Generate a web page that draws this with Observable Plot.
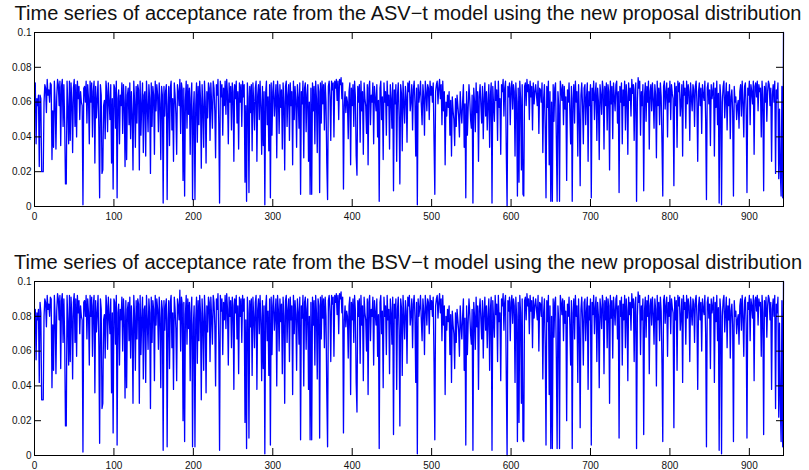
<!DOCTYPE html>
<html>
<head>
<meta charset="utf-8">
<script src="https://cdn.jsdelivr.net/npm/d3@7"></script>
<script src="https://cdn.jsdelivr.net/npm/@observablehq/plot@0.6"></script>
<style>
  html, body { margin: 0; padding: 0; background: #fff; overflow: hidden; }
  #chart { position: relative; width: 809px; height: 470px; background: #fff; overflow: hidden; }
  .panel { position: absolute; left: 0; width: 809px; }
  .ttl { position: absolute; left: -92px; width: 1000px; text-align: center; white-space: nowrap;
         font-family: "Liberation Sans", Arial, Helvetica, sans-serif; font-size: 20px; line-height: 20px; color: #111; }
  svg { display: block; }
</style>
</head>
<body>
<div id="chart"></div>
<script>
const titles = [
  "Time series of acceptance rate from the ASV\u2212t model using the new proposal distribution",
  "Time series of acceptance rate from the BSV\u2212t model using the new proposal distribution"
];
const xTicks = [0, 100, 200, 300, 400, 500, 600, 700, 800, 900];
const yTicks = [0, 0.02, 0.04, 0.06, 0.08, 0.1];
const yTickLabels = ["0", "0.02", "0.04", "0.06", "0.08", "0.1"];
const xMax = 943;

const asvRate = [
.071,.036,.062,.058,.064,.023,.064,.062,.020,.020,
.020,.060,.070,.068,.054,.073,.064,.067,.060,.071,
.070,.027,.055,.034,.072,.060,.033,.063,.073,.070,
.058,.072,.035,.069,.073,.046,.070,.048,.013,.013,
.072,.057,.036,.072,.038,.071,.060,.031,.068,.073,
.046,.070,.040,.072,.062,.069,.050,.066,.060,.058,
.001,.068,.069,.060,.072,.048,.070,.062,.036,.072,
.060,.071,.040,.066,.072,.025,.069,.051,.062,.072,
.045,.005,.070,.064,.019,.021,.058,.061,.039,.072,
.066,.043,.071,.060,.050,.070,.025,.062,.010,.070,
.068,.045,.072,.005,.062,.067,.036,.064,.058,.071,
.042,.070,.060,.023,.069,.027,.064,.068,.047,.071,
.039,.066,.053,.021,.072,.060,.034,.069,.048,.070,
.067,.021,.072,.041,.059,.071,.031,.064,.066,.029,
.072,.058,.043,.070,.062,.019,.071,.046,.069,.064,
.030,.072,.055,.070,.064,.043,.071,.059,.027,.069,
.064,.002,.069,.052,.066,.070,.004,.058,.069,.035,
.068,.072,.044,.062,.026,.071,.064,.053,.030,.070,
.066,.058,.073,.042,.071,.067,.015,.068,.006,.061,
.072,.045,.070,.053,.068,.030,.062,.071,.004,.055,
.066,.004,.058,.071,.037,.069,.047,.072,.062,.022,
.070,.057,.034,.072,.060,.025,.066,.051,.071,.068,
.038,.071,.059,.045,.072,.068,.055,.028,.070,.064,
.073,.048,.002,.072,.063,.070,.041,.068,.058,.072,
.053,.073,.064,.036,.071,.060,.069,.044,.071,.066,
.026,.070,.062,.072,.048,.066,.033,.071,.060,.070,
.046,.072,.063,.070,.014,.058,.003,.071,.062,.008,
.069,.054,.070,.032,.071,.060,.044,.068,.072,.026,
.064,.070,.050,.072,.058,.030,.069,.035,.066,.001,
.065,.072,.047,.063,.032,.070,.005,.071,.041,.066,
.072,.052,.061,.070,.028,.072,.064,.042,.070,.057,
.067,.033,.071,.060,.021,.069,.072,.046,.064,.070,
.038,.071,.058,.066,.024,.072,.050,.069,.061,.034,
.070,.063,.045,.071,.007,.066,.059,.072,.028,.068,
.071,.043,.064,.070,.026,.060,.007,.068,.007,.071,
.055,.069,.036,.072,.062,.031,.070,.066,.008,.071,
.048,.072,.059,.070,.044,.071,.060,.025,.004,.069,
.072,.063,.038,.072,.067,.071,.040,.072,.068,.073,
.061,.072,.050,.073,.070,.074,.062,.071,.010,.058,
.066,.054,.063,.060,.039,.066,.071,.024,.068,.058,
.070,.046,.072,.063,.029,.018,.069,.060,.070,.037,
.072,.055,.066,.030,.071,.062,.058,.042,.070,.024,
.068,.072,.047,.064,.060,.071,.036,.069,.062,.055,
.070,.040,.061,.003,.068,.072,.050,.063,.027,.071,
.060,.066,.041,.072,.058,.064,.033,.070,.062,.045,
.071,.009,.067,.059,.070,.026,.064,.071,.052,.013,
.070,.065,.032,.072,.060,.048,.069,.063,.037,.071,
.066,.072,.055,.061,.070,.044,.067,.072,.060,.029,
.068,.001,.070,.060,.065,.072,.058,.047,.070,.063,
.041,.072,.066,.055,.070,.068,.050,.072,.064,.069,
.060,.071,.038,.007,.066,.070,.072,.059,.068,.073,
.062,.070,.047,.072,.055,.066,.024,.060,.052,.064,
.057,.066,.041,.061,.029,.063,.055,.050,.035,.062,
.046,.064,.058,.052,.040,.066,.055,.048,.060,.070,
.034,.059,.005,.066,.041,.057,.070,.062,.050,.045,
.064,.002,.068,.060,.043,.071,.054,.066,.026,.063,
.070,.058,.048,.069,.039,.062,.071,.052,.066,.044,
.060,.070,.034,.064,.071,.002,.069,.058,.049,.072,
.061,.067,.038,.072,.057,.062,.030,.070,.066,.073,
.052,.068,.072,.031,0,.069,.063,.071,.047,.068,
.072,.056,.070,.066,.029,.071,.060,.006,.068,.014,
.072,.062,.021,.070,.007,.006,.069,.071,.058,.073,
.066,.070,.050,.072,.063,.069,.044,.071,.059,.066,
.070,.064,.058,.072,.042,.068,.067,.060,.071,.031,
.062,.070,.045,.005,.069,.057,.072,.024,.066,.003,
.060,.003,.070,.049,.068,.071,.039,.003,.066,.058,
.003,.072,.068,.061,.070,.047,.069,.056,.063,.015,
.067,.060,.071,.055,.036,.069,.003,.062,.070,.048,
.072,.060,.066,.029,.070,.053,.012,.064,.071,.058,
.036,.068,.070,.047,.063,.071,.026,.066,.058,.070,
.005,.068,.061,.072,.050,.065,.071,.038,.068,.060,
.027,.070,.064,.053,.072,.067,.033,.069,.058,.071,
.044,.070,.066,.021,.072,.059,.069,.039,.071,.063,
.055,.070,.072,.048,.066,.008,.069,.060,.071,.036,
.067,.058,.072,.044,.070,.063,.030,.071,.061,.068,
.052,.073,.065,.070,.038,.067,.071,.003,.060,.074,
.068,.072,.041,.066,.058,.070,.009,.063,.071,.049,
.069,.060,.072,.033,.066,.070,.055,.071,.062,.045,
.070,.064,.028,.072,.058,.068,.047,.071,.063,.037,
.006,.069,.072,.056,.066,.071,.040,.068,.060,.072,
.050,.070,.065,.062,.012,.071,.058,.069,.034,.072,
.066,.071,.052,.060,.070,.029,.072,.064,.068,.045,
.072,.059,.070,.066,.038,.071,.063,.055,.070,.067,
.046,.069,.072,.060,.026,.066,.071,.058,.068,.042,
.070,.064,.061,.072,.050,.004,.068,.071,.059,.067,
.035,.070,.062,.066,.071,.029,.068,.057,.072,.047,
.065,.002,.070,.063,.001,.060,.069,.072,.051,.062,
.071,.044,.066,.058,.070,.039,.063,.067,.055,.006,
.069,.060,.063,.050,.058,.061,.045,.066,.070,.052,
.072,.060,.040,.069,.071,.056,.008,.068,.064,.072,
.047,.070,.066,.059,.072,.030,.069,.071,.063,.072,
.055,.070,.066,.068,.040,.072,.062,.009,.069,.060,
.071,.049,.066,.072,.070,.058,.068,.026,.064,.070,
.060,.072,.019,.067,.062,.071,.016,.056,.020,.006,
.069,.005,.1
];

const bsvRate = [
.084,.055,.082,.078,.084,.042,.088,.082,.032,.032,
.032,.080,.090,.088,.074,.092,.084,.087,.080,.091,
.090,.039,.075,.049,.092,.080,.047,.083,.093,.090,
.078,.092,.050,.089,.093,.065,.090,.067,.017,.017,
.092,.077,.052,.092,.054,.091,.080,.044,.088,.093,
.065,.090,.057,.092,.082,.089,.070,.086,.080,.078,
.002,.088,.089,.080,.092,.067,.090,.082,.052,.092,
.080,.091,.057,.086,.092,.036,.089,.071,.082,.092,
.064,.007,.090,.084,.027,.030,.078,.081,.056,.092,
.086,.061,.091,.080,.070,.090,.036,.082,.013,.090,
.088,.064,.092,.006,.082,.087,.052,.084,.078,.091,
.060,.090,.080,.033,.089,.039,.084,.088,.066,.091,
.056,.086,.073,.030,.092,.080,.049,.089,.067,.090,
.087,.030,.092,.058,.079,.091,.044,.084,.086,.042,
.092,.078,.061,.090,.082,.027,.091,.065,.089,.084,
.043,.092,.075,.090,.084,.061,.091,.079,.039,.089,
.084,.003,.089,.072,.086,.090,.005,.078,.089,.050,
.088,.092,.062,.082,.038,.091,.084,.073,.043,.090,
.086,.078,.095,.060,.091,.087,.020,.088,.008,.081,
.092,.064,.090,.073,.088,.043,.082,.091,.005,.075,
.086,.005,.078,.091,.053,.089,.066,.092,.082,.032,
.090,.077,.049,.092,.080,.036,.086,.071,.091,.088,
.054,.091,.079,.064,.092,.088,.075,.040,.090,.084,
.093,.067,.003,.092,.083,.090,.058,.088,.078,.092,
.073,.093,.084,.052,.091,.080,.089,.062,.091,.086,
.038,.090,.082,.092,.067,.086,.047,.091,.080,.090,
.065,.092,.083,.090,.019,.078,.004,.091,.082,.010,
.089,.074,.090,.046,.091,.080,.062,.088,.092,.038,
.084,.090,.070,.092,.078,.043,.089,.050,.086,.001,
.085,.092,.066,.083,.046,.090,.006,.091,.058,.086,
.092,.072,.081,.090,.040,.092,.084,.060,.090,.077,
.087,.047,.091,.080,.030,.089,.092,.065,.084,.090,
.054,.091,.078,.086,.035,.092,.070,.089,.081,.049,
.090,.083,.064,.091,.009,.086,.079,.092,.040,.088,
.091,.061,.084,.090,.038,.080,.009,.088,.009,.091,
.075,.089,.052,.092,.082,.044,.090,.086,.010,.091,
.067,.092,.079,.090,.062,.091,.080,.036,.005,.089,
.092,.083,.054,.092,.087,.091,.057,.092,.088,.093,
.081,.092,.070,.093,.090,.094,.082,.091,.013,.078,
.086,.074,.083,.080,.056,.086,.091,.035,.088,.078,
.090,.065,.092,.083,.042,.025,.089,.080,.090,.053,
.092,.075,.086,.043,.091,.082,.078,.060,.090,.035,
.088,.092,.066,.084,.080,.091,.052,.089,.082,.075,
.090,.057,.081,.004,.088,.092,.070,.083,.039,.091,
.080,.086,.058,.092,.078,.084,.047,.090,.082,.064,
.091,.012,.087,.079,.090,.038,.084,.091,.072,.017,
.090,.085,.046,.092,.080,.067,.089,.083,.053,.091,
.086,.092,.075,.081,.090,.062,.087,.092,.080,.042,
.088,.001,.090,.080,.085,.092,.078,.066,.090,.083,
.058,.092,.086,.075,.090,.088,.070,.092,.084,.089,
.080,.091,.054,.009,.086,.090,.092,.079,.088,.093,
.082,.090,.066,.092,.075,.086,.035,.080,.072,.084,
.077,.086,.058,.081,.042,.083,.075,.070,.050,.082,
.065,.084,.078,.072,.057,.086,.075,.067,.080,.090,
.049,.079,.006,.086,.058,.077,.090,.082,.070,.064,
.084,.003,.088,.080,.061,.091,.074,.086,.038,.083,
.090,.078,.067,.089,.056,.082,.091,.072,.086,.062,
.080,.090,.049,.084,.091,.003,.089,.078,.068,.092,
.081,.087,.054,.092,.077,.082,.043,.090,.086,.093,
.072,.088,.092,.044,0,.089,.083,.091,.066,.088,
.092,.076,.090,.086,.042,.091,.080,.008,.088,.019,
.092,.082,.030,.090,.009,.008,.089,.091,.078,.093,
.086,.090,.070,.092,.083,.089,.062,.091,.079,.086,
.090,.084,.078,.092,.060,.088,.087,.080,.091,.044,
.082,.090,.064,.006,.089,.077,.092,.035,.086,.004,
.080,.004,.090,.068,.088,.091,.056,.004,.086,.078,
.004,.092,.088,.081,.090,.066,.089,.076,.083,.020,
.087,.080,.091,.075,.052,.089,.004,.082,.090,.067,
.092,.080,.086,.042,.090,.073,.016,.084,.091,.078,
.052,.088,.090,.066,.083,.091,.038,.086,.078,.090,
.006,.088,.081,.092,.070,.085,.091,.054,.088,.080,
.039,.090,.084,.073,.092,.087,.047,.089,.078,.091,
.062,.090,.086,.030,.092,.079,.089,.056,.091,.083,
.075,.090,.092,.067,.086,.010,.089,.080,.091,.052,
.087,.078,.092,.062,.090,.083,.043,.091,.081,.088,
.072,.093,.085,.090,.054,.087,.091,.004,.080,.094,
.088,.092,.058,.086,.078,.090,.012,.083,.091,.068,
.089,.080,.092,.047,.086,.090,.075,.091,.082,.064,
.090,.084,.040,.092,.078,.088,.066,.091,.083,.053,
.008,.089,.092,.076,.086,.091,.057,.088,.080,.092,
.070,.090,.085,.082,.016,.091,.078,.089,.049,.092,
.086,.091,.072,.080,.090,.042,.092,.084,.088,.064,
.092,.079,.090,.086,.054,.091,.083,.075,.090,.087,
.065,.089,.092,.080,.038,.086,.091,.078,.088,.060,
.090,.084,.081,.092,.070,.005,.088,.091,.079,.087,
.050,.090,.082,.086,.091,.042,.088,.077,.092,.066,
.085,.003,.090,.083,.001,.080,.089,.092,.071,.082,
.091,.062,.086,.078,.090,.056,.083,.087,.075,.008,
.089,.080,.083,.070,.078,.081,.064,.086,.090,.072,
.092,.080,.057,.089,.091,.076,.010,.088,.084,.092,
.066,.090,.086,.079,.092,.043,.089,.091,.083,.092,
.075,.090,.086,.088,.057,.092,.082,.012,.089,.080,
.091,.068,.086,.092,.090,.078,.088,.038,.084,.090,
.080,.092,.027,.087,.082,.091,.022,.076,.029,.008,
.089,.005,.1
];

const FONT = "'Liberation Sans', Arial, Helvetica, sans-serif";

function panel(values, title, top, height, marginBottom) {
  const wrap = document.createElement("div");
  wrap.className = "panel";
  wrap.style.top = top + "px";
  wrap.style.height = height + "px";
  const inner = 174;
  const tick = 7;
  const innerW = 809 - 34 - 26;
  const svg = Plot.plot({
    width: 809,
    height: height,
    marginLeft: 34,
    marginRight: 26,
    marginTop: 32,
    marginBottom: marginBottom,
    x: {domain: [0, xMax]},
    y: {domain: [0, 0.1]},
    style: {fontFamily: FONT, fontSize: "10px", color: "#111", background: "white", overflow: "visible"},
    marks: [
      Plot.lineY(values, {x: (d, i) => i + 1, y: d => d, stroke: "#0000ff", strokeWidth: 1.3}),
      Plot.ruleX(xTicks, {x: d => d, insetTop: inner - tick, stroke: "#000"}),
      Plot.ruleX(xTicks, {x: d => d, insetBottom: inner - tick, stroke: "#000"}),
      Plot.ruleY(yTicks, {y: d => d, insetRight: innerW - tick, stroke: "#000"}),
      Plot.ruleY(yTicks, {y: d => d, insetLeft: innerW - tick, stroke: "#000"}),
      Plot.frame({stroke: "#000"}),
      Plot.axisX({ticks: xTicks, tickSize: 0, tickPadding: 6, fontSize: 10, tickFormat: d => String(d), label: null}),
      Plot.axisY({ticks: yTicks, tickSize: 0, tickPadding: 3, fontSize: 10, tickFormat: d => yTickLabels[yTicks.indexOf(d)], label: null})
    ]
  });
  wrap.appendChild(svg);
  const t = document.createElement("div");
  t.className = "ttl";
  t.style.top = "3px";
  t.textContent = title;
  wrap.appendChild(t);
  return wrap;
}

const chart = document.getElementById("chart");
chart.appendChild(panel(asvRate, titles[0], 0, 235, 29));
chart.appendChild(panel(bsvRate, titles[1], 249, 221, 15));
</script>
</body>
</html>
